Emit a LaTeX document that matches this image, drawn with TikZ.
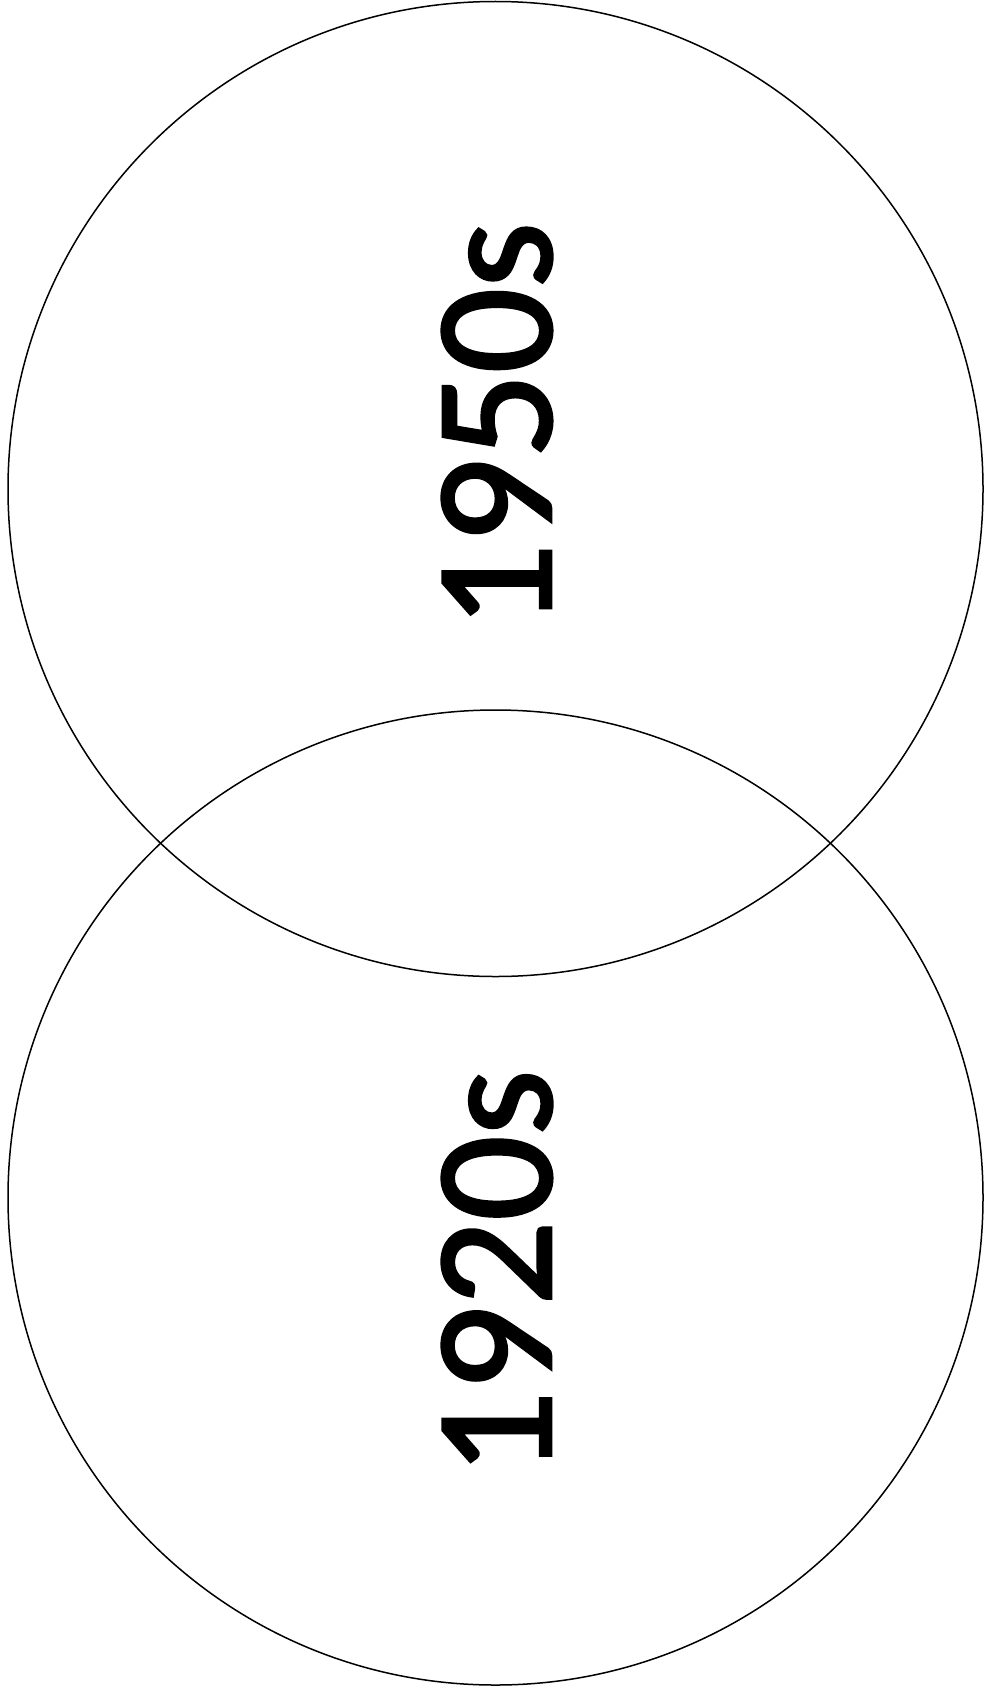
\documentclass[tikz,border=0pt]{standalone}
\usepackage{fontspec}
\newfontfamily\labelfont{Carlito}[FakeBold=1.8]
\begin{document}
\begin{tikzpicture}[x=1pt,y=-1pt,
  ring/.style={draw=black,line width=1.5pt,circle,minimum size=975pt,inner sep=0pt},
  lbl/.style={rotate=90,inner sep=0pt,font=\labelfont\fontsize{168}{168}\selectfont}]
\useasboundingbox (0,0) rectangle (984,1694);
\node[ring] (top) at (495.5,489) {};
\node[ring] (bot) at (495.5,1197.5) {};
\node[lbl] (t1) at (497,425.5) {1950s};
\node[lbl] (t2) at (497,1273) {1920s};
\end{tikzpicture}
\end{document}
